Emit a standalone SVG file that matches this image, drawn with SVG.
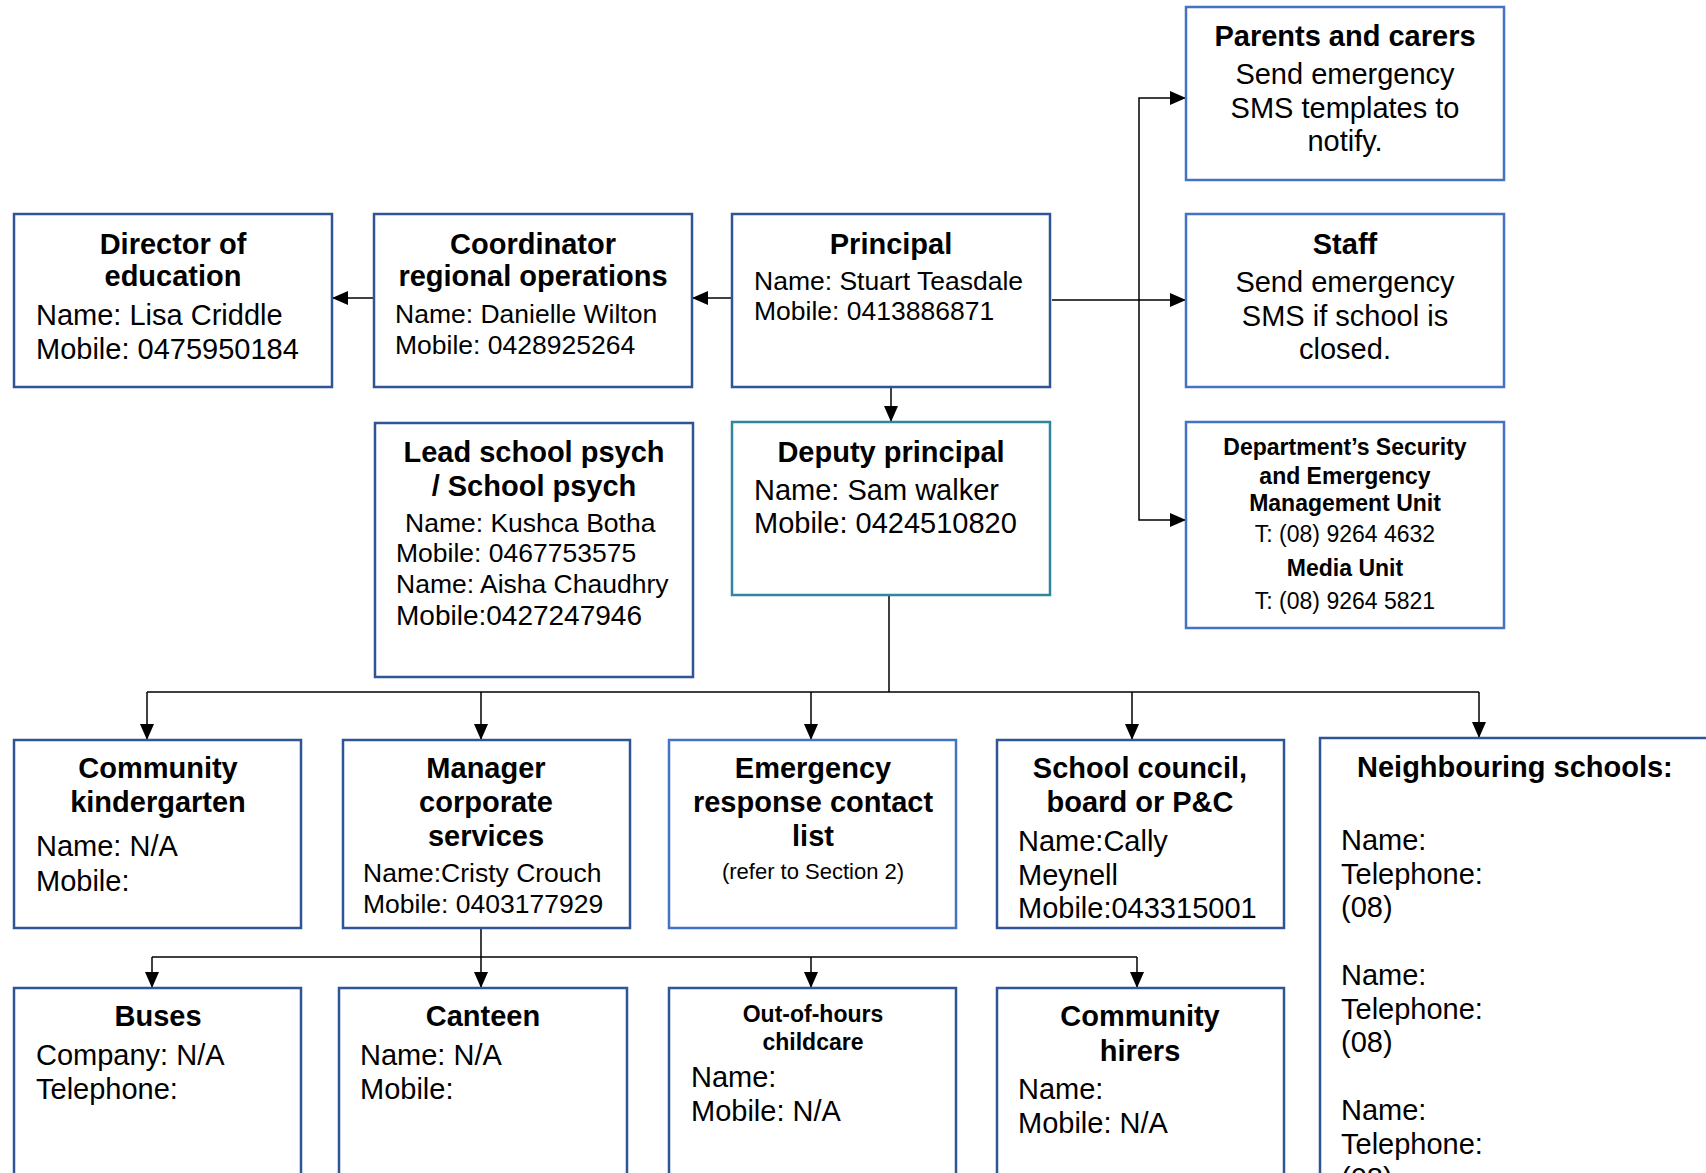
<svg xmlns="http://www.w3.org/2000/svg" width="1706" height="1173" viewBox="0 0 1706 1173">
<defs>
<marker id="arr" markerUnits="userSpaceOnUse" markerWidth="16" markerHeight="14" refX="16" refY="7" orient="auto">
<path d="M0,0 L16,7 L0,14 z" fill="#000"/>
</marker>
<style>
.box{fill:#fff;stroke:#2F5597;stroke-width:2.5}
.lb{fill:#fff;stroke:#4472C4;stroke-width:2.5}
.tl{fill:#fff;stroke:#31859C;stroke-width:2.5}
text{font-family:"Liberation Sans",Arial,sans-serif;fill:#000}
.t{font-weight:bold;font-size:29px;text-anchor:middle}
.ts{font-weight:bold;font-size:23px;text-anchor:middle}
.b{font-size:29px}
.s{font-size:26.5px}
.c{text-anchor:middle}
.con{fill:none;stroke:#000;stroke-width:1.5}
</style>
</defs>
<rect width="1706" height="1173" fill="#fff"/>

<g id="connectors">
<path class="con" d="M732,298 H692" marker-end="url(#arr)"/>
<path class="con" d="M374,298 H332" marker-end="url(#arr)"/>
<path class="con" d="M1052,300 H1186" marker-end="url(#arr)"/>
<path class="con" d="M1139,300 V98 H1186" marker-end="url(#arr)"/>
<path class="con" d="M1139,300 V520 H1186" marker-end="url(#arr)"/>
<path class="con" d="M891,387 V422" marker-end="url(#arr)"/>
<path class="con" d="M889,595 V692"/>
<path class="con" d="M147,692 H1479"/>
<path class="con" d="M147,692 V740" marker-end="url(#arr)"/>
<path class="con" d="M481,692 V740" marker-end="url(#arr)"/>
<path class="con" d="M811,692 V740" marker-end="url(#arr)"/>
<path class="con" d="M1132,692 V740" marker-end="url(#arr)"/>
<path class="con" d="M1479,692 V738" marker-end="url(#arr)"/>
<path class="con" d="M481,928 V988" marker-end="url(#arr)"/>
<path class="con" d="M152,957 H1137"/>
<path class="con" d="M152,957 V988" marker-end="url(#arr)"/>
<path class="con" d="M811,957 V988" marker-end="url(#arr)"/>
<path class="con" d="M1137,957 V988" marker-end="url(#arr)"/>
</g>

<g id="director">
<rect class="box" x="14" y="214" width="318" height="173"/>
<text class="t" x="173" y="254">Director of</text>
<text class="t" x="173" y="286">education</text>
<text class="b" x="36" y="325">Name: Lisa Criddle</text>
<text class="b" x="36" y="359">Mobile: 0475950184</text>
</g>

<g id="coordinator">
<rect class="box" x="374" y="214" width="318" height="173"/>
<text class="t" x="533" y="254">Coordinator</text>
<text class="t" x="533" y="286">regional operations</text>
<text class="s" x="395" y="323">Name: Danielle Wilton</text>
<text class="s" x="395" y="354">Mobile: 0428925264</text>
</g>

<g id="principal">
<rect class="box" x="732" y="214" width="318" height="173"/>
<text class="t" x="891" y="254">Principal</text>
<text class="s" x="754" y="290">Name: Stuart Teasdale</text>
<text class="s" x="754" y="320">Mobile: 0413886871</text>
</g>

<g id="parents">
<rect class="lb" x="1186" y="7" width="318" height="173"/>
<text class="t" x="1345" y="46">Parents and carers</text>
<text class="b c" x="1345" y="84">Send emergency</text>
<text class="b c" x="1345" y="118">SMS templates to</text>
<text class="b c" x="1345" y="151">notify.</text>
</g>

<g id="staff">
<rect class="lb" x="1186" y="214" width="318" height="173"/>
<text class="t" x="1345" y="254">Staff</text>
<text class="b c" x="1345" y="292">Send emergency</text>
<text class="b c" x="1345" y="326">SMS if school is</text>
<text class="b c" x="1345" y="359">closed.</text>
</g>

<g id="dept">
<rect class="lb" x="1186" y="422" width="318" height="206"/>
<text class="ts" x="1345" y="455">Department’s Security</text>
<text class="ts" x="1345" y="484">and Emergency</text>
<text class="ts" x="1345" y="511">Management Unit</text>
<text class="c" x="1345" y="542" font-size="23">T: (08) 9264 4632</text>
<text class="ts" x="1345" y="576">Media Unit</text>
<text class="c" x="1345" y="609" font-size="23">T: (08) 9264 5821</text>
</g>

<g id="psych">
<rect class="box" x="375" y="423" width="318" height="254"/>
<text class="t" x="534" y="462">Lead school psych</text>
<text class="t" x="534" y="496">/ School psych</text>
<text class="s" x="405" y="532">Name: Kushca Botha</text>
<text class="s" x="396" y="562">Mobile: 0467753575</text>
<text class="s" x="396" y="593">Name: Aisha Chaudhry</text>
<text x="396" y="625" font-size="28">Mobile:0427247946</text>
</g>

<g id="deputy">
<rect class="tl" x="732" y="422" width="318" height="173"/>
<text class="t" x="891" y="462">Deputy principal</text>
<text class="b" x="754" y="500">Name: Sam walker</text>
<text class="b" x="754" y="533">Mobile: 0424510820</text>
</g>

<g id="kinder">
<rect class="box" x="14" y="740" width="287" height="188"/>
<text class="t" x="158" y="778">Community</text>
<text class="t" x="158" y="812">kindergarten</text>
<text class="b" x="36" y="856">Name: N/A</text>
<text class="b" x="36" y="891">Mobile:</text>
</g>

<g id="manager">
<rect class="box" x="343" y="740" width="287" height="188"/>
<text class="t" x="486" y="778">Manager</text>
<text class="t" x="486" y="812">corporate</text>
<text class="t" x="486" y="846">services</text>
<text class="s" x="363" y="882">Name:Cristy Crouch</text>
<text class="s" x="363" y="913">Mobile: 0403177929</text>
</g>

<g id="emergency">
<rect class="lb" x="669" y="740" width="287" height="188"/>
<text class="t" x="813" y="778">Emergency</text>
<text class="t" x="813" y="812">response contact</text>
<text class="t" x="813" y="846">list</text>
<text class="c" x="813" y="879" font-size="22">(refer to Section 2)</text>
</g>

<g id="council">
<rect class="box" x="997" y="740" width="287" height="188"/>
<text class="t" x="1140" y="778">School council,</text>
<text class="t" x="1140" y="812">board or P&amp;C</text>
<text class="b" x="1018" y="851">Name:Cally</text>
<text class="b" x="1018" y="885">Meynell</text>
<text class="b" x="1018" y="918">Mobile:043315001</text>
</g>

<g id="neighbouring">
<rect class="box" x="1320" y="738" width="500" height="500"/>
<text x="1357" y="777" font-size="29" font-weight="bold">Neighbouring schools:</text>
<text class="b" x="1341" y="850">Name:</text>
<text class="b" x="1341" y="884">Telephone:</text>
<text class="b" x="1341" y="917">(08)</text>
<text class="b" x="1341" y="985">Name:</text>
<text class="b" x="1341" y="1019">Telephone:</text>
<text class="b" x="1341" y="1052">(08)</text>
<text class="b" x="1341" y="1120">Name:</text>
<text class="b" x="1341" y="1154">Telephone:</text>
<text class="b" x="1341" y="1188">(08)</text>
</g>

<g id="buses">
<rect class="box" x="14" y="988" width="287" height="300"/>
<text class="t" x="158" y="1026">Buses</text>
<text class="b" x="36" y="1065">Company: N/A</text>
<text class="b" x="36" y="1099">Telephone:</text>
</g>

<g id="canteen">
<rect class="box" x="339" y="988" width="288" height="300"/>
<text class="t" x="483" y="1026">Canteen</text>
<text class="b" x="360" y="1065">Name: N/A</text>
<text class="b" x="360" y="1099">Mobile:</text>
</g>

<g id="ooh">
<rect class="box" x="669" y="988" width="287" height="300"/>
<text class="ts" x="813" y="1022">Out-of-hours</text>
<text class="ts" x="813" y="1050">childcare</text>
<text class="b" x="691" y="1087">Name:</text>
<text class="b" x="691" y="1121">Mobile: N/A</text>
</g>

<g id="hirers">
<rect class="box" x="997" y="988" width="287" height="300"/>
<text class="t" x="1140" y="1026">Community</text>
<text class="t" x="1140" y="1061">hirers</text>
<text class="b" x="1018" y="1099">Name:</text>
<text class="b" x="1018" y="1133">Mobile: N/A</text>
</g>
</svg>
